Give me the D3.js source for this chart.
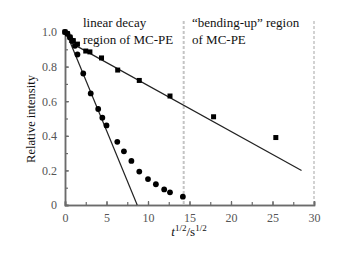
<!DOCTYPE html>
<html>
<head>
<meta charset="utf-8">
<script src="https://cdn.jsdelivr.net/npm/d3@7"></script>
<style>
body { margin: 0; background: #fff; }
text { font-family: "Liberation Serif", "Times New Roman", serif; }
</style>
</head>
<body>
<svg id="svg"></svg>
<script>
var width = 340, height = 253;

// slow decay (squares) and fast decay (circles), x = t^1/2 / s^1/2
var squareX = [0, 0.3, 0.6, 1.0, 1.5, 2.5, 3.0, 4.4, 6.35, 8.95, 12.65, 17.9, 25.4];
var squareY = [1.0, 0.99, 0.97, 0.95, 0.93, 0.89, 0.885, 0.85, 0.78, 0.72, 0.63, 0.51, 0.39];
var circleX = [0, 0.3, 0.6, 0.9, 1.2, 1.5, 2.2, 3.1, 4.0, 4.5, 5.0, 6.3, 7.1, 8.0, 8.95, 10.0, 10.95, 11.95, 12.65, 14.2];
var circleY = [1.0, 0.99, 0.97, 0.95, 0.92, 0.87, 0.76, 0.645, 0.555, 0.505, 0.46, 0.365, 0.31, 0.255, 0.193, 0.15, 0.12, 0.09, 0.073, 0.048];
// fitted lines
var fastLine = [[0.2, 0.99], [8.7, 0]];
var slowLine = [[0.5, 0.943], [28.5, 0.199]];
var regionBounds = [14.3, 30];
var xTicks = [0, 5, 10, 15, 20, 25, 30];
var yTicks = [0, 0.2, 0.4, 0.6, 0.8, 1.0];

var svg = d3.select("#svg")
	.attr("width", width)
	.attr("height", height);

var x = d3.scaleLinear().domain([0, 30]).range([65, 314]);
var y = d3.scaleLinear().domain([0, 1]).range([205, 32]);

var axisColor = "#6b6b6b";

// dashed region separators
svg.selectAll(".sep")
	.data(regionBounds)
	.enter()
	.append("line")
	.attr("x1", function(d) { return x(d); })
	.attr("x2", function(d) { return x(d); })
	.attr("y1", 21)
	.attr("y2", y(0))
	.attr("stroke", function(d, i) { return i == 0 ? "#c4c4c4" : "#d2d2d2"; })
	.attr("stroke-width", 2)
	.attr("stroke-dasharray", "3,2");

// axes with inward ticks
var xMinor = d3.axisBottom(x).tickValues(d3.range(0, 30.1, 2.5)).tickSize(-3).tickFormat("");
var yMinor = d3.axisLeft(y).tickValues(d3.range(0, 1.01, 0.1)).tickSize(-3).tickFormat("");
var xAxis = d3.axisBottom(x).tickValues(xTicks).tickSize(-4).tickPadding(8).tickFormat(d3.format("d"));
var yAxis = d3.axisLeft(y).tickValues(yTicks).tickSize(-4).tickPadding(8)
	.tickFormat(function(d) { return d == 0 ? "0" : d3.format(".1f")(d); });

[xMinor, xAxis].forEach(function(a) {
	svg.append("g").attr("transform", "translate(0," + y(0) + ")").call(a);
});
[yMinor, yAxis].forEach(function(a) {
	svg.append("g").attr("transform", "translate(" + x(0) + ",0)").call(a);
});
svg.selectAll(".domain").attr("stroke", axisColor).attr("stroke-width", 1.5);
svg.selectAll(".tick line").attr("stroke", axisColor).attr("stroke-width", 1.2);
svg.selectAll(".tick text")
	.attr("fill", "#555")
	.style("font-family", "Liberation Serif, serif")
	.style("font-size", "12px");

// fit lines
var line = d3.line()
	.x(function(d) { return x(d[0]); })
	.y(function(d) { return y(d[1]); });
[fastLine, slowLine].forEach(function(l) {
	svg.append("path")
		.attr("d", line(l))
		.attr("fill", "none")
		.attr("stroke", "#222")
		.attr("stroke-width", 1.2);
});

// markers
svg.selectAll(".sq")
	.data(squareX)
	.enter()
	.append("rect")
	.attr("x", function(d) { return x(d) - 2.5; })
	.attr("y", function(d, i) { return y(squareY[i]) - 2.5; })
	.attr("width", 5)
	.attr("height", 5)
	.attr("fill", "#000");

svg.selectAll(".dot")
	.data(circleX)
	.enter()
	.append("circle")
	.attr("cx", function(d) { return x(d); })
	.attr("cy", function(d, i) { return y(circleY[i]); })
	.attr("r", 2.9)
	.attr("fill", "#000");

// annotations
var notes = [
	{ x: 83, y: 27, t: "linear decay" },
	{ x: 83, y: 44, t: "region of MC-PE" },
	{ x: 192, y: 27, t: "\u201cbending-up\u201d region" },
	{ x: 192, y: 44, t: "of MC-PE" }
];
svg.selectAll(".note")
	.data(notes)
	.enter()
	.append("text")
	.attr("x", function(d) { return d.x; })
	.attr("y", function(d) { return d.y; })
	.style("font-size", "13px")
	.attr("fill", "#111")
	.text(function(d) { return d.t; });

// axis titles
svg.append("text")
	.attr("transform", "translate(35,119) rotate(-90)")
	.attr("text-anchor", "middle")
	.style("font-size", "12.5px")
	.attr("fill", "#111")
	.text("Relative intensity");

var xt = svg.append("text")
	.attr("x", 189)
	.attr("y", 236)
	.attr("text-anchor", "middle")
	.style("font-size", "13px")
	.attr("fill", "#111");
xt.append("tspan").style("font-style", "italic").text("t");
xt.append("tspan").attr("dy", -5).style("font-size", "9px").text("1/2");
xt.append("tspan").attr("dy", 5).text("/s");
xt.append("tspan").attr("dy", -5).style("font-size", "9px").text("1/2");
</script>
</body>
</html>
